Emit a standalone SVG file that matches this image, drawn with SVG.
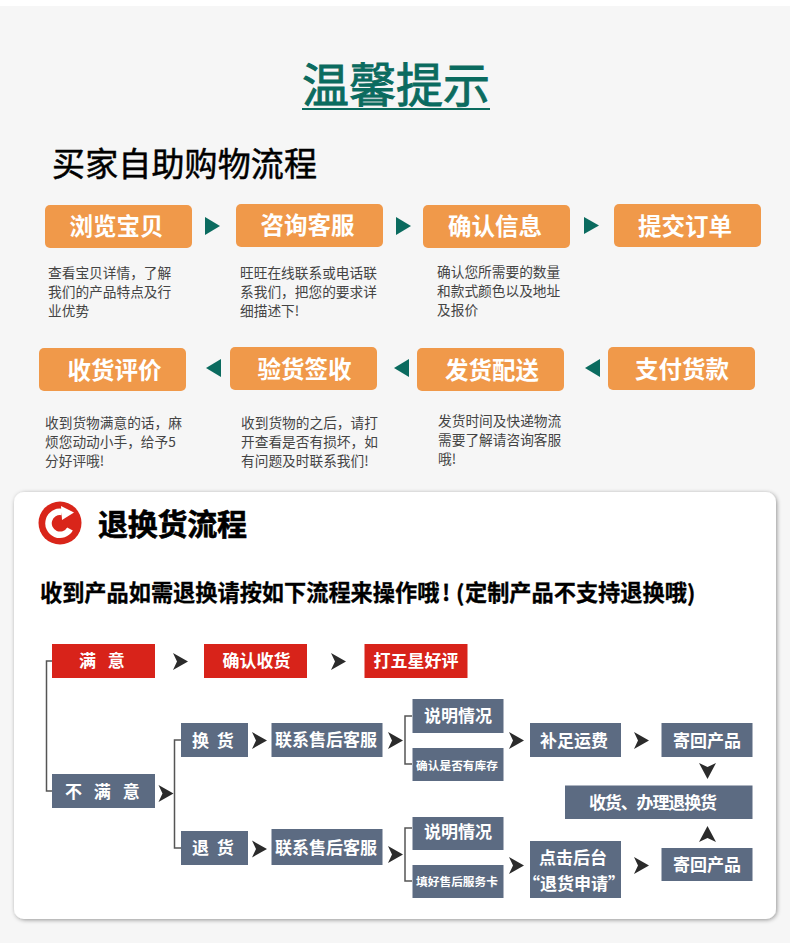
<svg xmlns="http://www.w3.org/2000/svg" width="790" height="947" viewBox="0 0 790 947">
<style>
text{font-family:"Noto Sans CJK SC","Liberation Sans",sans-serif}
.o{fill:#f0994a}
.ot{fill:#fff;font-size:23.5px;font-weight:700;text-anchor:middle}
.d{fill:#444;font-size:13.7px}
.r{fill:#d8231a}
.g{fill:#5c6b82}
.t{fill:#fff;font-size:17px;font-weight:700;text-anchor:middle}
.s{fill:#fff;font-size:11.7px;font-weight:700;text-anchor:middle}
.c{fill:none;stroke:#555;stroke-width:1.5}
.ta{fill:#0b6b5f}
.da{fill:#2b2b2b}
</style>
<defs>
<filter id="sh" x="-5%" y="-5%" width="110%" height="110%"><feDropShadow dx="1" dy="1" stdDeviation="2" flood-color="#000" flood-opacity="0.4"/></filter>
<polygon id="rt" points="0,0 15,8.5 0,17 4,8.5"/>
</defs>
<rect width="790" height="947" fill="#fff"/>
<rect y="6" width="790" height="937" fill="#f6f6f6"/>
<g id="title">
<text x="302" y="102" font-size="47" fill="#0b6b5f" stroke="#0b6b5f" stroke-width="0.9" textLength="188">温馨提示</text>
<rect x="302" y="108" width="188" height="2" fill="#0b6b5f"/>
</g>
<text id="subtitle" x="52" y="176" font-size="33" fill="#000" stroke="#000" stroke-width="0.5" textLength="265">买家自助购物流程</text>
<g id="n1"><rect class="o" x="45" y="205" width="147" height="43" rx="5"/><text class="ot" x="116.5" y="235">浏览宝贝</text></g>
<g id="n2"><rect class="o" x="236" y="204" width="147" height="43" rx="5"/><text class="ot" x="307.5" y="234">咨询客服</text></g>
<g id="n3"><rect class="o" x="423" y="205" width="147" height="43" rx="5"/><text class="ot" x="495" y="235">确认信息</text></g>
<g id="n4"><rect class="o" x="614" y="204" width="147" height="43" rx="5"/><text class="ot" x="685" y="235">提交订单</text></g>
<g id="n5"><rect class="o" x="39" y="348" width="147" height="43" rx="5"/><text class="ot" x="114.5" y="379">收货评价</text></g>
<g id="n6"><rect class="o" x="230" y="347" width="147" height="43" rx="5"/><text class="ot" x="304.5" y="378">验货签收</text></g>
<g id="n7"><rect class="o" x="417" y="348" width="147" height="43" rx="5"/><text class="ot" x="492" y="379">发货配送</text></g>
<g id="n8"><rect class="o" x="608" y="347" width="147" height="43" rx="5"/><text class="ot" x="682" y="378">支付货款</text></g>
<g id="connectors-top">
<polygon class="ta" points="205,217 220,226 205,235"/>
<polygon class="ta" points="396,217 411,226 396,235"/>
<polygon class="ta" points="584,217 599,225.5 584,234"/>
<polygon class="ta" points="221,359 206,368 221,377"/>
<polygon class="ta" points="409,359 394,368 409,377"/>
<polygon class="ta" points="600,359 585,368 600,377"/>
</g>
<g id="desc">
<text class="d" x="48" y="278">查看宝贝详情&#xFF0C;了解</text><text class="d" x="48" y="297">我们的产品特点及行</text><text class="d" x="48" y="316">业优势</text>
<text class="d" x="240" y="278">旺旺在线联系或电话联</text><text class="d" x="240" y="297">系我们&#xFF0C;把您的要求详</text><text class="d" x="240" y="316">细描述下!</text>
<text class="d" x="437" y="277">确认您所需要的数量</text><text class="d" x="437" y="296">和款式颜色以及地址</text><text class="d" x="437" y="315">及报价</text>
<text class="d" x="45" y="428">收到货物满意的话&#xFF0C;麻</text><text class="d" x="45" y="447">烦您动动小手&#xFF0C;给予5</text><text class="d" x="45" y="466">分好评哦!</text>
<text class="d" x="241" y="428">收到货物的之后&#xFF0C;请打</text><text class="d" x="241" y="447">开查看是否有损坏&#xFF0C;如</text><text class="d" x="241" y="466">有问题及时联系我们!</text>
<text class="d" x="438" y="426">发货时间及快递物流</text><text class="d" x="438" y="445">需要了解请咨询客服</text><text class="d" x="438" y="464">哦!</text>
</g>
<rect id="panel" x="14" y="492" width="762" height="427" rx="10" fill="#fff" filter="url(#sh)"/>
<g id="icon">
<circle cx="60" cy="523" r="21.500" fill="#d9251a"/>
<path d="M70,529 A11.500,11.500 0 1 1 62,512" fill="none" stroke="#fff" stroke-width="6.500"/>
<polygon points="61,506 74,512.500 62,520" fill="#fff"/>
</g>
<text id="h2" x="98" y="535" font-size="30" font-weight="700" fill="#000" stroke="#000" stroke-width="0.6" textLength="149">退换货流程</text>
<text id="h3" y="601" font-size="22.200" font-weight="700" fill="#000" stroke="#000" stroke-width="0.3"><tspan x="40">收到产品如需退换请按如下流程来操作哦</tspan><tspan x="442">!</tspan><tspan x="456">(</tspan><tspan x="465">定制产品不支持退换哦</tspan><tspan x="687">)</tspan></text>
<g id="connectors">
<path class="c" d="M52,661H46.500V791H52"/>
<path class="c" d="M181,740H174.500V848H181"/>
<path class="c" d="M412,716H405V764H412"/>
<path class="c" d="M412,828H405V881H412"/>
<use class="da" href="#rt" x="173" y="653"/>
<use class="da" href="#rt" x="331" y="653"/>
<use class="da" href="#rt" x="158.500" y="785"/>
<use class="da" href="#rt" x="252" y="732"/>
<use class="da" href="#rt" x="252" y="840.500"/>
<use class="da" href="#rt" x="388" y="732"/>
<use class="da" href="#rt" x="388" y="846"/>
<use class="da" href="#rt" x="509" y="732"/>
<use class="da" href="#rt" x="509" y="857"/>
<use class="da" href="#rt" x="634" y="732"/>
<use class="da" href="#rt" x="634" y="857"/>
<polygon class="da" points="699,763 707.500,767 716,763 707.500,779"/>
<polygon class="da" points="699,842 707.500,838 716,842 707.500,826"/>
</g>
<g id="f1"><rect class="r" x="52" y="644" width="103" height="34"/><text class="t" x="79" y="667" style="text-anchor:start" word-spacing="8">满 意</text></g>
<g id="f2"><rect class="r" x="204" y="644" width="103" height="34"/><text class="t" x="256.500" y="667">确认收货</text></g>
<g id="f3"><rect class="r" x="364.500" y="644" width="103" height="34"/><text class="t" x="416" y="667">打五星好评</text></g>
<g id="f4"><rect class="g" x="52" y="774" width="103" height="34"/><text class="t" x="65" y="798" style="text-anchor:start" word-spacing="8">不 满 意</text></g>
<g id="f5"><rect class="g" x="181" y="723" width="67" height="34"/><text class="t" x="192" y="747" style="text-anchor:start" word-spacing="4">换 货</text></g>
<g id="f6"><rect class="g" x="271.500" y="723" width="111" height="34"/><text class="t" x="326" y="746">联系售后客服</text></g>
<g id="f7"><rect class="g" x="181" y="831" width="67" height="34"/><text class="t" x="192" y="854" style="text-anchor:start" word-spacing="4">退 货</text></g>
<g id="f8"><rect class="g" x="271.500" y="829" width="111" height="36"/><text class="t" x="326" y="854">联系售后客服</text></g>
<g id="f9"><rect class="g" x="412.500" y="699" width="91" height="34"/><text class="t" x="458" y="722">说明情况</text></g>
<g id="f10"><rect class="g" x="412.500" y="748" width="91" height="33"/><text class="s" x="457" y="770">确认是否有库存</text></g>
<g id="f11"><rect class="g" x="412.500" y="817" width="91" height="33"/><text class="t" x="458" y="838">说明情况</text></g>
<g id="f12"><rect class="g" x="412.500" y="865" width="91" height="33"/><text class="s" x="457" y="886">填好售后服务卡</text></g>
<g id="f13"><rect class="g" x="530" y="723" width="91" height="34"/><text class="t" x="574" y="747">补足运费</text></g>
<g id="f14"><rect class="g" x="661.500" y="723" width="91" height="34"/><text class="t" x="707" y="747">寄回产品</text></g>
<g id="f15"><rect class="g" x="565" y="785.500" width="187.500" height="33.500"/><text class="t" x="653" y="809" textLength="128" lengthAdjust="spacing">收货、办理退换货</text></g>
<g id="f16"><rect class="g" x="530" y="841" width="91" height="57"/><text class="t" x="573" y="864">点击后台</text><text class="t" x="574" y="890">“退货申请”</text></g>
<g id="f17"><rect class="g" x="661.500" y="848" width="91" height="33"/><text class="t" x="707" y="871">寄回产品</text></g>
</svg>
